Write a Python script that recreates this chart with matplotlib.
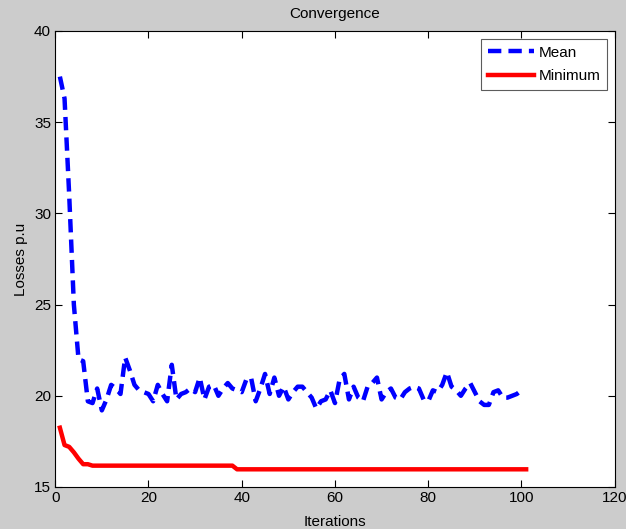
import matplotlib
matplotlib.use("Agg")
import matplotlib.pyplot as plt
import numpy as np

plt.rcParams['font.family'] = ['Liberation Sans Narrow', 'Liberation Sans', 'DejaVu Sans']

mean_vals = [37.5, 36.3, 31.0, 25.0, 22.0, 21.9, 19.7, 19.6, 20.4, 19.2,
             19.8, 20.6, 20.4, 20.1, 22.1, 21.4, 20.6, 20.3, 20.2, 20.1,
             19.7, 20.6, 20.1, 19.7, 21.7, 19.8, 20.1, 20.2, 20.4, 20.2,
             21.0, 19.8, 20.5, 20.6, 20.0, 20.4, 20.7, 20.4, 20.3, 20.2,
             20.9, 21.0, 19.7, 20.4, 21.2, 20.1, 21.0, 20.0, 20.5, 19.8,
             20.2, 20.5, 20.5, 20.2, 19.9, 19.3, 19.7, 19.8, 20.3, 19.6,
             20.9, 21.2, 19.8, 20.5, 19.9, 19.7, 20.5, 20.7, 21.0, 19.8,
             20.2, 20.4, 19.9, 19.8, 20.2, 20.4, 20.5, 20.4, 19.8, 19.7,
             20.3, 20.2, 20.6, 21.3, 20.5, 20.3, 20.0, 20.4, 20.7, 20.2,
             19.7, 19.5, 19.5, 20.2, 20.3, 19.9, 19.9, 20.0, 20.1, 20.3]
min_vals = [18.25, 17.3, 17.2, 16.9, 16.55, 16.25, 16.25] + [16.17] * 31 + [15.97] * 63

mean_iter = np.arange(1, len(mean_vals) + 1)
min_iter = np.arange(1, len(min_vals) + 1)

fig = plt.figure(figsize=(6.26, 5.29), dpi=100, facecolor='#cccccc')
ax = fig.add_axes([0.0882, 0.0794, 0.8938, 0.862])
ax.set_facecolor('white')

ax.plot(mean_iter, mean_vals, color='#0000ff', linestyle=(0, (3, 1.6)), linewidth=3.2, label='Mean')
ax.plot(min_iter, min_vals, color='#ff0000', linestyle='-', linewidth=3.2, label='Minimum')

ax.set_xlim(0, 120)
ax.set_ylim(15, 40)
ax.set_xticks([0, 20, 40, 60, 80, 100, 120])
ax.set_yticks([15, 20, 25, 30, 35, 40])
ax.tick_params(direction='in', top=True, right=True, length=5, width=0.8,
               labelsize=11, colors='black', pad=3)
for sp in ax.spines.values():
    sp.set_linewidth(0.8)

ax.set_title('Convergence', fontsize=11, pad=9)
ax.set_xlabel('Iterations', fontsize=11, labelpad=7)
ax.set_ylabel('Losses p.u', fontsize=11, labelpad=4)

leg = ax.legend(loc='upper right', fontsize=11, frameon=True, fancybox=False,
                edgecolor='#333333', handlelength=3.0, borderaxespad=0.5,
                labelspacing=0.65, handletextpad=0.3, borderpad=0.45)
leg.get_frame().set_linewidth(0.8)

fig.savefig('out.png', dpi=100, facecolor=fig.get_facecolor())
